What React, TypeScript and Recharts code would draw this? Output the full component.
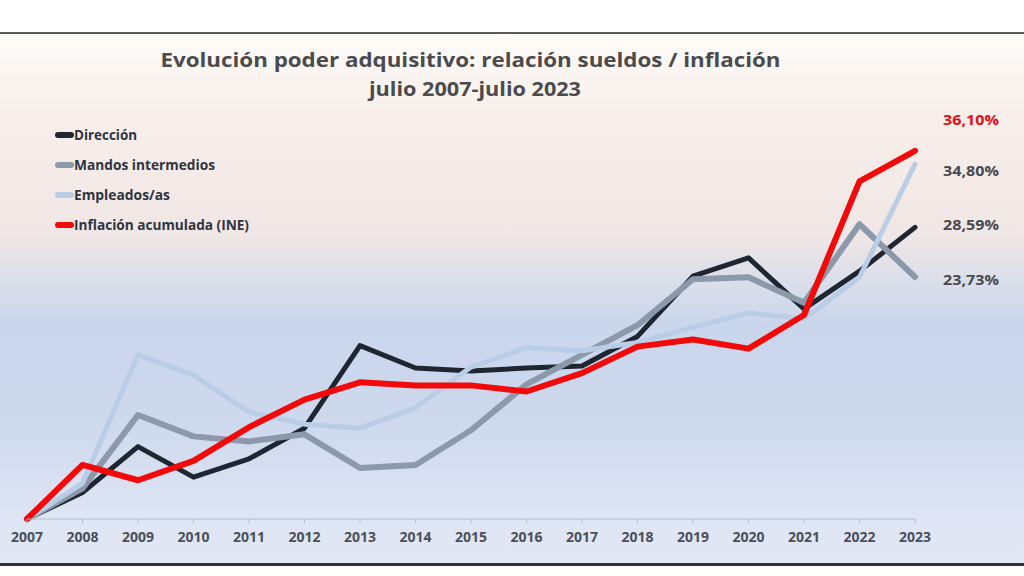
import React from 'react';
import { LineChart, Line, XAxis, YAxis } from 'recharts';

const years = [2007, 2008, 2009, 2010, 2011, 2012, 2013, 2014, 2015, 2016, 2017, 2018, 2019, 2020, 2021, 2022, 2023];
const direccion = [0, 2.6, 7.1, 4.1, 5.9, 8.9, 17.0, 14.8, 14.5, 14.8, 15.0, 17.9, 23.8, 25.6, 20.6, 24.3, 28.59];
const mandos = [0, 3.0, 10.2, 8.1, 7.6, 8.3, 5.0, 5.3, 8.7, 13.2, 16.1, 19.0, 23.5, 23.7, 21.2, 28.9, 23.73];
const empleados = [0, 3.5, 16.1, 14.1, 10.5, 9.3, 8.9, 10.9, 14.9, 16.8, 16.5, 17.3, 18.8, 20.2, 19.6, 23.7, 34.8];
const inflacion = [0, 5.3, 3.8, 5.7, 9.0, 11.7, 13.4, 13.1, 13.1, 12.5, 14.3, 16.9, 17.6, 16.7, 20.0, 33.1, 36.1];

const seriesNames = ['Dirección', 'Mandos intermedios', 'Empleados/as', 'Inflación acumulada (INE)'];
const seriesKeys = ['direccion', 'mandos', 'empleados', 'inflacion'];
const seriesColors = ['#1e2631', '#8b99aa', '#b9cde7', '#f20a0a'];
const seriesWidths = [5, 6, 5, 6];
const endLabels = ['36,10%', '34,80%', '28,59%', '23,73%'];
const titleLines = ['Evolución poder adquisitivo: relación sueldos / inflación', 'julio 2007-julio 2023'];

const data = years.map((y, i) => ({
  year: y,
  direccion: direccion[i],
  mandos: mandos[i],
  empleados: empleados[i],
  inflacion: inflacion[i],
}));

const FONT = "'Open Sans', 'DejaVu Sans', sans-serif";

export default function App() {
  const legendTextLen = [63, 141, 96, 175];
  const endLabelY = [125, 176, 230, 285];
  const endLabelColors = ['#e3101a', '#454a52', '#454a52', '#454a52'];
  return (
    <div style={{ position: 'absolute', left: 0, top: 0, width: 1024, height: 576, background: '#ffffff', overflow: 'hidden' }}>
      <div
        style={{
          position: 'absolute',
          left: 0,
          top: 32,
          width: 1024,
          height: 534,
          boxSizing: 'border-box',
          borderTop: '2px solid #5a5a5a',
          borderBottom: '3px solid #333333',
          background:
            'linear-gradient(to bottom, #fdfbf9 0%, #f8efea 15%, #f0e6e5 38%, #dcdfea 46%, #cad6ec 55%, #cdd8ed 72%, #dde4f3 90%, #e3e8f4 100%)',
        }}
      />
      <div style={{ position: 'absolute', left: 0, top: 0 }}>
        <LineChart width={1024} height={576} data={data} margin={{ top: 111, right: 109, bottom: 27, left: 27 }}>
          <XAxis
            dataKey="year"
            type="number"
            domain={[2007, 2023]}
            ticks={years}
            interval={0}
            height={30}
            tickSize={4}
            tickMargin={9}
            stroke="#b4bccb"
            tick={{ fill: '#4a505a', fontSize: 14, fontWeight: 700, fontFamily: FONT }}
            allowDecimals={false}
          />
          <YAxis hide domain={[0, 40]} />
          {seriesKeys.map((k, i) => (
            <Line
              key={k}
              type="linear"
              dataKey={k}
              name={seriesNames[i]}
              stroke={seriesColors[i]}
              strokeWidth={seriesWidths[i]}
              strokeLinejoin="round"
              strokeLinecap="round"
              dot={false}
              activeDot={false}
              isAnimationActive={false}
            />
          ))}
        </LineChart>
      </div>
      <svg width={1024} height={576} style={{ position: 'absolute', left: 0, top: 0, pointerEvents: 'none' }}>
        <text x={470.5} y={67} textAnchor="middle" fontFamily={FONT} fontWeight={700} fontSize={20} fill="#4b4b4d" textLength={620} lengthAdjust="spacingAndGlyphs">
          {titleLines[0]}
        </text>
        <text x={475} y={96} textAnchor="middle" fontFamily={FONT} fontWeight={700} fontSize={20} fill="#4b4b4d" textLength={212} lengthAdjust="spacingAndGlyphs">
          {titleLines[1]}
        </text>
        {seriesNames.map((n, i) => {
          const cy = 135 + i * 30;
          return (
            <g key={n}>
              <rect x={55} y={cy - 3} width={19} height={6} rx={3} fill={seriesColors[i]} />
              <text x={74} y={cy + 5} fontFamily={FONT} fontWeight={700} fontSize={14} fill="#2e3440" textLength={legendTextLen[i]} lengthAdjust="spacingAndGlyphs">
                {n}
              </text>
            </g>
          );
        })}
        {endLabels.map((l, i) => (
          <text key={l} x={943} y={endLabelY[i]} fontFamily={FONT} fontWeight={700} fontSize={15} fill={endLabelColors[i]} textLength={56} lengthAdjust="spacingAndGlyphs">
            {l}
          </text>
        ))}
      </svg>
    </div>
  );
}
